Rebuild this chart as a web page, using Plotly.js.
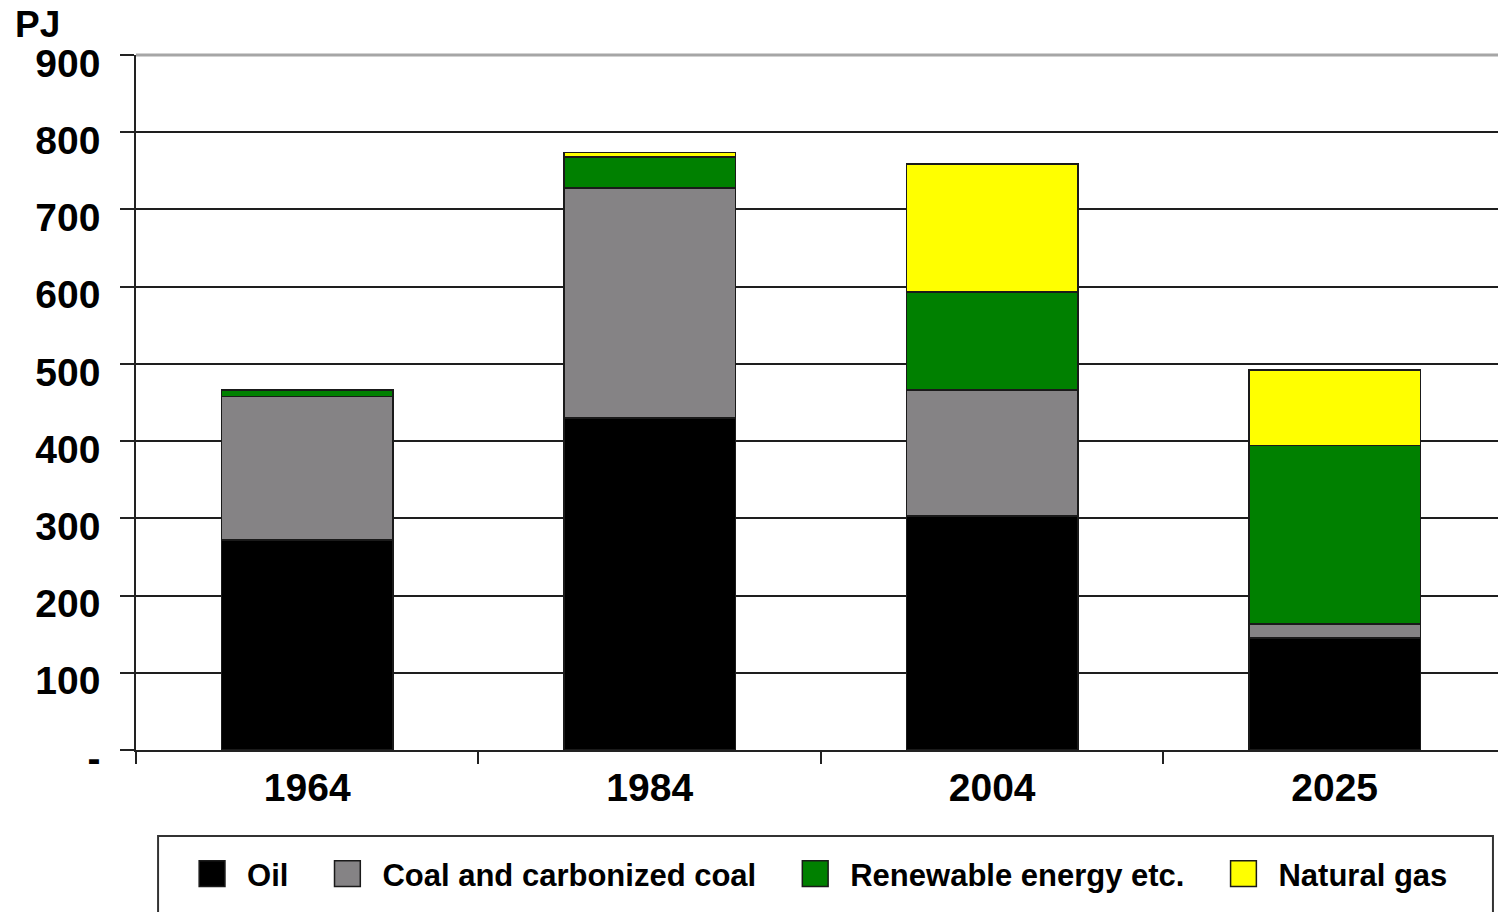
<!DOCTYPE html>
<html>
<head>
<meta charset="utf-8">
<script src="https://cdn.plot.ly/plotly-3.0.1.min.js"></script>
<style>
  html, body { margin: 0; padding: 0; background: #fff; overflow: hidden; }
  #chart { width: 1498px; height: 912px; }
</style>
</head>
<body>
<div id="chart"></div>
<script>
// ---- data ----
const years = ['1964', '1984', '2004', '2025'];
const oil = [272, 430, 303, 145];
const coal = [186, 298, 163, 18];
const renewable = [8, 40, 127, 231];
const naturalGas = [0, 6, 166, 98];
const seriesNames = ['Oil', 'Coal and carbonized coal', 'Renewable energy etc.', 'Natural gas'];
const yTickVals = [0, 100, 200, 300, 400, 500, 600, 700, 800, 900];
const yTickText = ['-', '100', '200', '300', '400', '500', '600', '700', '800', '900'];
const unitLabel = 'PJ';

// ---- styles ----
const colors = ['#000000', '#858385', '#008000', '#FFFF00'];
const FONT = 'Liberation Sans, Arial, sans-serif';
const seriesValues = [oil, coal, renewable, naturalGas];

const traces = seriesValues.map((vals, i) => ({
  type: 'bar',
  name: seriesNames[i],
  x: years,
  y: vals,
  marker: { color: colors[i], line: { color: '#1a1a1a', width: 1.5 } },
  hoverinfo: 'x+y+name'
}));

const layout = {
  width: 1498,
  height: 912,
  margin: { l: 136, r: 0, t: 55, b: 162 },
  paper_bgcolor: '#ffffff',
  plot_bgcolor: '#ffffff',
  barmode: 'stack',
  bargap: 0.5,
  font: { family: FONT, color: '#000' },
  xaxis: {
    type: 'category',
    range: [-0.5, 3.477],
    tickson: 'boundaries',
    ticks: 'outside',
    ticklen: 12,
    tickwidth: 1.5,
    tickcolor: '#222',
    showline: true,
    linecolor: '#222',
    linewidth: 1.5,
    showgrid: false,
    tickfont: { family: FONT, size: 39, weight: 'bold', color: '#000' },
    ticklabelstandoff: 2,
    fixedrange: true
  },
  yaxis: {
    range: [0, 900],
    tickvals: yTickVals,
    ticktext: yTickText,
    ticks: 'outside',
    ticklen: 14,
    tickwidth: 1.5,
    tickcolor: '#222',
    showline: true,
    linecolor: '#222',
    linewidth: 1.5,
    showgrid: true,
    gridcolor: '#1e1e1e',
    gridwidth: 1.5,
    zeroline: false,
    tickfont: { family: FONT, size: 39, weight: 'bold', color: '#000' },
    ticklabelstandoff: 12,
    ticklabelshift: 8,
    fixedrange: true
  },
  shapes: [
    // top frame line of the plot area
    { type: 'line', xref: 'paper', yref: 'paper', x0: 0, x1: 1, y0: 1, y1: 1,
      line: { color: '#a6a6a6', width: 3 }, layer: 'above' },
    // legend frame (runs past the bottom edge, as in the reference)
    { type: 'rect', xref: 'paper', yref: 'paper',
      x0: 0.0162, x1: 0.9963, y0: -0.1237, y1: -0.35,
      line: { color: '#333', width: 2 }, fillcolor: 'rgba(0,0,0,0)', layer: 'above' }
  ],
  annotations: [
    { text: unitLabel, xref: 'paper', yref: 'paper', x: -0.0903, y: 1.0446,
      xanchor: 'left', yanchor: 'middle', showarrow: false,
      font: { family: FONT, size: 37, weight: 'bold', color: '#000' } }
  ],
  showlegend: true,
  legend: {
    orientation: 'h',
    x: 0.0162,
    xanchor: 'left',
    y: -0.1395,
    yanchor: 'top',
    borderwidth: 0,
    bgcolor: 'rgba(0,0,0,0)',
    itemwidth: 79,
    traceorder: 'normal',
    font: { family: FONT, size: 31, weight: 'bold', color: '#000' }
  }
};

const gd = document.getElementById('chart');
Plotly.newPlot(gd, traces, layout, { displayModeBar: false }).then(() => {
  // enlarge the legend swatches and place them just left of their labels
  gd.querySelectorAll('.legend .traces').forEach(tr => {
    const txt = tr.querySelector('text.legendtext');
    let tx = parseFloat(txt && txt.getAttribute('x'));
    if (!isFinite(tx)) tx = 89;
    tr.querySelectorAll('.legendpoints path').forEach(p => {
      p.setAttribute('transform', 'translate(' + (tx - 35) + ',0) scale(2.15)');
      p.style.vectorEffect = 'non-scaling-stroke';
    });
  });
});
</script>
</body>
</html>
